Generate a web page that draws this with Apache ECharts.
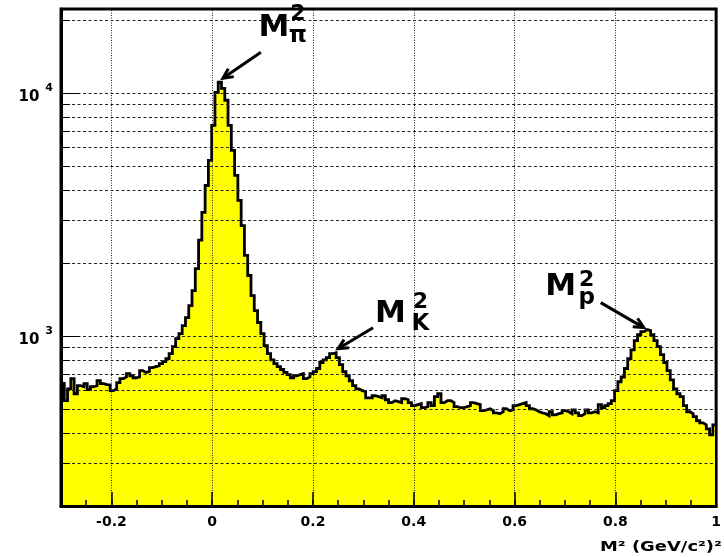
<!DOCTYPE html>
<html>
<head>
<meta charset="utf-8">
<script src="https://cdn.jsdelivr.net/npm/echarts@6/dist/echarts.min.js"></script>
<style>
  html, body { margin: 0; padding: 0; background: #fff; }
  #chart { width: 724px; height: 557px; }
</style>
</head>
<body>
<div id="chart"></div>
<script>
// Squared-mass histogram: 200 equal bins between binLow and binHigh
const binLow = -0.3;
const binHigh = 1.0;

const counts = [
  640, 543, 608, 669, 580, 626, 620, 638, 603, 620,
  626, 656, 638, 632, 630, 597, 608, 644, 669, 680,
  702, 688, 675, 680, 722, 710, 716, 743, 750, 757,
  772, 787, 810, 848, 906, 978, 1026, 1107, 1195, 1339,
  1543, 1900, 2490, 3240, 4180, 5307, 7400, 10120, 11130, 10500,
  9385, 7400, 5836, 4600, 3629, 2860, 2155, 1780, 1470, 1277,
  1140, 1026, 915, 848, 800, 772, 750, 730, 710, 695,
  675, 688, 695, 702, 669, 680, 702, 716, 737, 780,
  800, 817, 848, 855, 817, 765, 716, 688, 656, 626,
  608, 597, 592, 558, 558, 569, 564, 558, 569, 548,
  533, 543, 538, 533, 553, 548, 533, 518, 523, 528,
  508, 513, 533, 518, 564, 580, 533, 543, 543, 533,
  513, 508, 508, 513, 518, 533, 528, 523, 494, 498,
  503, 494, 484, 480, 489, 503, 494, 498, 518, 523,
  528, 533, 518, 503, 498, 489, 484, 480, 471, 489,
  475, 480, 484, 494, 489, 480, 498, 484, 471, 480,
  498, 484, 489, 484, 523, 508, 518, 528, 543, 597,
  650, 680, 737, 810, 880, 960, 1016, 1046, 1066, 1056,
  1016, 960, 906, 840, 780, 722, 662, 608, 580, 564,
  518, 489, 480, 467, 449, 440, 432, 416, 393, 432
];

// Axis ranges and tick positions
const yMin = 200;
const yMax = 22300;
const xMajorTicks = [-0.2, 0, 0.2, 0.4, 0.6, 0.8, 1.0];
const yDecades = [1000, 10000];
const yMinorTicks = [300, 400, 500, 600, 700, 800, 900,
                     2000, 3000, 4000, 5000, 6000, 7000, 8000, 9000, 20000];

// Peak annotations: subscript and the x-window searched for the peak bin
const peakNames = ['π', 'K', 'p'];
const peakWindows = [[-0.05, 0.1], [0.2, 0.3], [0.8, 0.9]];

const FONT = '"DejaVu Sans", "Liberation Sans", Arial, sans-serif';
const binWidth = (binHigh - binLow) / counts.length;
const binEdge = i => binLow + i * binWidth;

// Step outline: each bin starts at its left edge, closing point at the upper edge
const stepData = counts.map((c, i) => [binEdge(i), c]);
stepData.push([binHigh, counts[counts.length - 1]]);

const gridLines = []
  .concat(yDecades.concat(yMinorTicks).map(v => ({
    yAxis: v,
    lineStyle: { color: '#222', width: 1, type: [3, 2.5] }
  })))
  .concat(xMajorTicks.filter(v => v < binHigh).map(v => ({
    xAxis: v,
    lineStyle: { color: '#222', width: 1, type: [1, 1.5] }
  })));

const chart = echarts.init(document.getElementById('chart'), null, { renderer: 'canvas' });

const yBase = {
  type: 'log',
  logBase: 10,
  min: yMin,
  max: yMax,
  z: 10,
  splitLine: { show: false }
};

chart.setOption({
  animation: false,
  backgroundColor: '#fff',
  grid: {
    left: 61, right: 3, top: 9, bottom: 51,
    show: true, borderColor: '#000', borderWidth: 3, backgroundColor: 'transparent'
  },
  xAxis: [
    {
      type: 'value',
      min: binLow, max: binHigh, interval: 0.05,
      z: 10,
      axisLine: { onZero: false, lineStyle: { color: '#000', width: 3 } },
      axisTick: { inside: true, length: 6, lineStyle: { color: '#000', width: 1.5 } },
      splitLine: { show: false },
      axisLabel: {
        margin: 9,
        color: '#000',
        fontFamily: FONT,
        fontWeight: 'bold',
        fontSize: 14,
        formatter: v => {
          const k = Math.round(v * 100);
          if (k % 20 !== 0) return '';
          return String(k / 100);
        }
      }
    },
    {
      type: 'value',
      min: binLow, max: binHigh, interval: 0.05,
      position: 'bottom',
      z: 11,
      axisLine: { show: false, onZero: false },
      axisTick: { inside: true, length: 14, customValues: xMajorTicks, lineStyle: { color: '#000', width: 1.5 } },
      axisLabel: { show: false },
      splitLine: { show: false }
    }
  ],
  yAxis: [
    Object.assign({}, yBase, {
      position: 'left',
      axisLine: { onZero: false, lineStyle: { color: '#000', width: 3 } },
      axisTick: { inside: true, length: 18, lineStyle: { color: '#000', width: 1 } },
      axisLabel: {
        margin: 8,
        color: '#000',
        showMinLabel: false,
        showMaxLabel: false,
        formatter: v => {
          const e = Math.round(Math.log10(v));
          if (Math.abs(v / Math.pow(10, e) - 1) > 1e-6) return '';
          return '{b|10}{s|' + e + '}';
        },
        rich: {
          b: { fontFamily: FONT, fontWeight: 'bold', fontSize: 15, lineHeight: 22, verticalAlign: 'bottom' },
          s: { fontFamily: FONT, fontWeight: 'bold', fontSize: 11, lineHeight: 22, verticalAlign: 'top', padding: [0, 0, 0, 6] }
        }
      }
    }),
    Object.assign({}, yBase, {
      position: 'left',
      axisLine: { show: false, onZero: false },
      axisTick: { inside: true, length: 9, customValues: yMinorTicks, lineStyle: { color: '#000', width: 1 } },
      axisLabel: { show: false }
    }),
    Object.assign({}, yBase, {
      position: 'right',
      axisLine: { show: true, onZero: false, lineStyle: { color: '#000', width: 2 } },
      axisTick: { show: false },
      axisLabel: { show: false }
    })
  ],
  series: [
    {
      name: 'counts',
      type: 'line',
      step: 'end',
      data: stepData,
      symbol: 'none',
      showSymbol: false,
      z: 2,
      clip: true,
      lineStyle: { color: '#000', width: 2.8, join: 'miter' },
      areaStyle: { color: '#ffff00', opacity: 1, origin: 'start' }
    },
    {
      name: 'grid',
      type: 'line',
      data: [],
      z: 5,
      silent: true,
      markLine: {
        silent: true,
        symbol: ['none', 'none'],
        label: { show: false },
        animation: false,
        data: gridLines
      }
    }
  ]
});

// Peak annotations anchored at the highest bin of each window
const toPx = (x, y) => chart.convertToPixel({ xAxisIndex: 0, yAxisIndex: 0 }, [x, y]);

// Pixel offsets of the arrow and label pieces from each peak anchor
const annotationLayout = [
  { tip: [3, -4],   tail: [41, -30],   m: [54, -54],   sup: [78, -68],   sub: [78, -46] },
  { tip: [3.5, -4], tail: [38.5, -25], m: [56, -38.5], sup: [86, -50.5], sub: [86, -29] },
  { tip: [-2, -2],  tail: [-45, -27],  m: [-85, -42.5], sup: [-59, -49], sub: [-59, -32] }
];

const graphics = [];
peakNames.forEach((name, k) => {
  const [lo, hi] = peakWindows[k];
  let best = -1;
  counts.forEach((c, i) => {
    const xc = binEdge(i) + binWidth / 2;
    if (xc >= lo && xc <= hi && (best < 0 || c > counts[best])) best = i;
  });
  const anchor = toPx(binEdge(best) + binWidth / 2, counts[best]);
  const L = annotationLayout[k];
  const p = off => [anchor[0] + off[0], anchor[1] + off[1]];
  const tip = p(L.tip), tail = p(L.tail);
  const dx = tip[0] - tail[0], dy = tip[1] - tail[1];
  const len = Math.hypot(dx, dy);
  const ux = dx / len, uy = dy / len;
  const head = 11, ang = 0.45;
  const arm = s => [
    tip[0] - head * (ux * Math.cos(ang) - s * uy * Math.sin(ang)),
    tip[1] - head * (uy * Math.cos(ang) + s * ux * Math.sin(ang))
  ];
  graphics.push({
    type: 'polyline', z: 50,
    shape: { points: [tail, tip] },
    style: { stroke: '#000', lineWidth: 3, fill: null }
  });
  graphics.push({
    type: 'polyline', z: 50,
    shape: { points: [arm(1), tip, arm(-1)] },
    style: { stroke: '#000', lineWidth: 3, fill: null, lineJoin: 'miter' }
  });
  const txt = (pos, text, size) => ({
    type: 'text', z: 50,
    style: {
      text: text, x: pos[0], y: pos[1],
      font: 'bold ' + size + 'px ' + FONT,
      fill: '#000',
      align: 'center', verticalAlign: 'middle',
      textAlign: 'center', textVerticalAlign: 'middle'
    }
  });
  graphics.push(txt(p(L.m), 'M', 31));
  graphics.push(txt(p(L.sup), '2', 22));
  graphics.push(txt(p(L.sub), name, 23));
});

// Horizontal axis title, widened to the letter shapes of the axis font
graphics.push({
  type: 'text', z: 50,
  x: 600, y: 547,
  scaleX: 1.28,
  style: {
    text: 'M² (GeV/c²)²',
    x: 0, y: 0,
    font: 'bold 14px ' + FONT,
    fill: '#000',
    align: 'left', verticalAlign: 'middle',
    textAlign: 'left', textVerticalAlign: 'middle'
  }
});

chart.setOption({ graphic: graphics });
</script>
</body>
</html>
